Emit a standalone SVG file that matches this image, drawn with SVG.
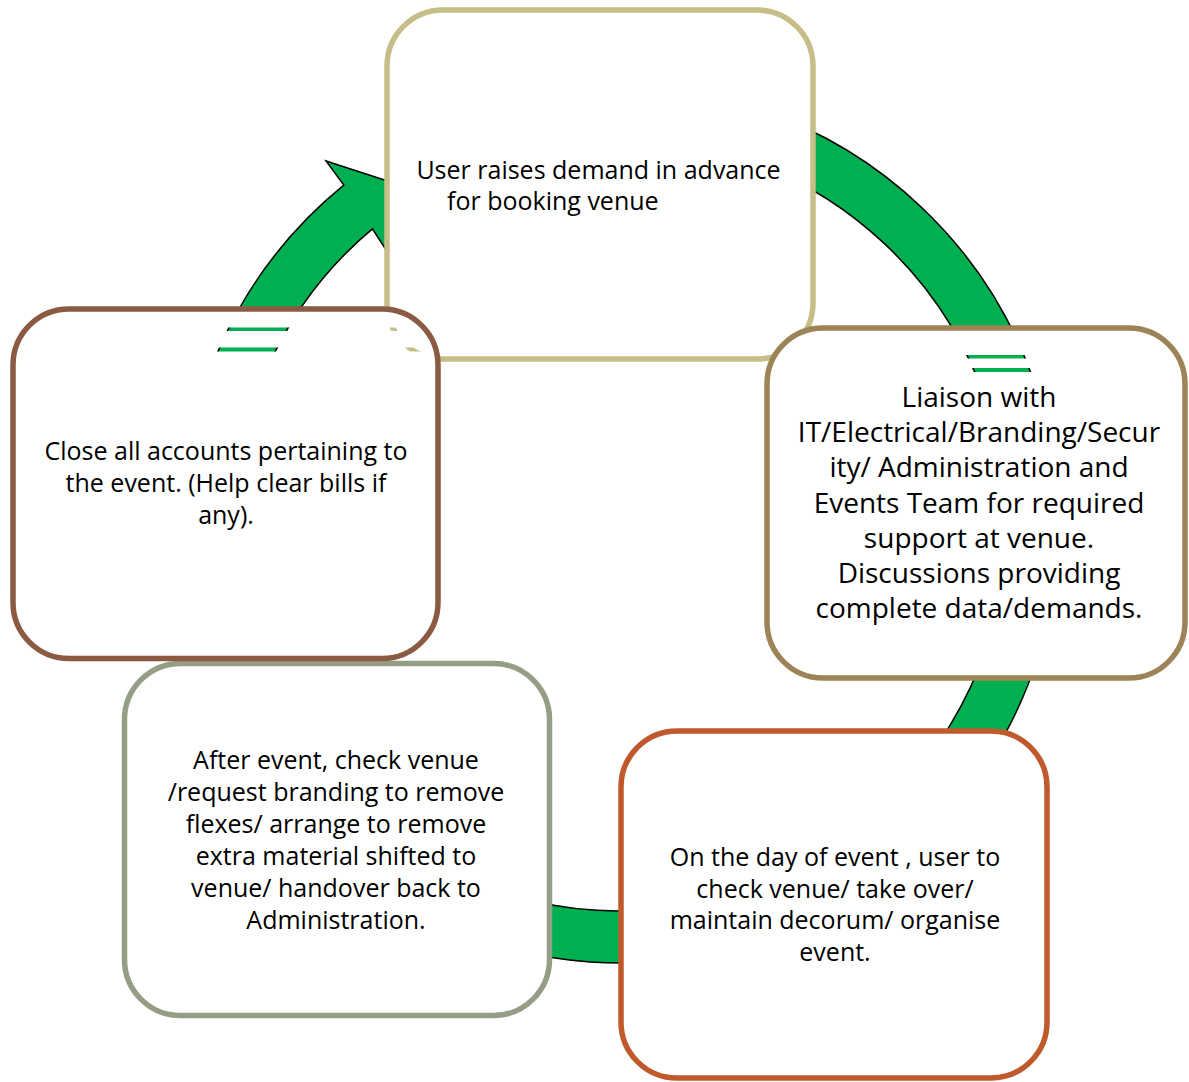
<svg xmlns="http://www.w3.org/2000/svg" xmlns:xlink="http://www.w3.org/1999/xlink" width="1189" height="1082" viewBox="0 0 1189 1082">
  <style>
    .box { fill: #FFFFFF; stroke-width: 5.5; }
    .ring { fill: #00B050; stroke: #000000; stroke-width: 1.5; stroke-linejoin: miter; }
    .t { font-family: "Open Sans", "Liberation Sans", sans-serif; font-size: 25px; fill: #000000; text-anchor: middle; }
    .t28 { font-size: 28px; }
  </style>
  <defs>
    <path id="ringShape" d="M 528.9 96.6 A 438 438 0 1 1 343.8 185.1 L 326 161 L 400 185 L 392 259 L 372.4 228.9 A 386 386 0 1 0 539.7 147.4 Z"/>
    <clipPath id="brownStripes">
      <rect x="15" y="327.5" width="421" height="3.5"/>
      <rect x="15" y="347.5" width="421" height="4"/>
    </clipPath>
    <clipPath id="rightStripes">
      <rect x="770" y="355" width="414" height="3.5"/>
      <rect x="770" y="368" width="414" height="4"/>
    </clipPath>
  </defs>
  <rect width="1189" height="1082" fill="#FFFFFF"/>

  <g id="connectors">
    <use xlink:href="#ringShape" href="#ringShape" class="ring"/>
  </g>

  <g id="node-booking">
    <rect class="box" x="387" y="10" width="426" height="349" rx="56" ry="56" stroke="#C6BE87"/>
    <text class="t" x="598.5" y="178.5">User raises demand in advance</text>
    <text class="t" x="447" y="209.5" style="text-anchor:start">for booking venue</text>
  </g>

  <g id="node-liaison">
    <rect class="box" x="767" y="328" width="418" height="350" rx="56" ry="56" stroke="#9C8456"/>
    <text class="t t28" x="979" y="407">Liaison with</text>
    <text class="t t28" x="979" y="442">IT/Electrical/Branding/Secur</text>
    <text class="t t28" x="979" y="477">ity/ Administration and</text>
    <text class="t t28" x="979" y="512.5">Events Team for required</text>
    <text class="t t28" x="979" y="547.5">support at venue.</text>
    <text class="t t28" x="979" y="582.5">Discussions providing</text>
    <text class="t t28" x="979" y="617.5">complete data/demands.</text>
  </g>

  <g id="node-eventday">
    <rect class="box" x="621" y="731" width="426" height="347" rx="56" ry="56" stroke="#C05A2C"/>
    <text class="t" x="835" y="866">On the day of event , user to</text>
    <text class="t" x="835" y="897.5">check venue/ take over/</text>
    <text class="t" x="835" y="929">maintain decorum/ organise</text>
    <text class="t" x="835" y="961">event.</text>
  </g>

  <g id="node-afterevent">
    <rect class="box" x="124.5" y="663.5" width="425" height="352" rx="56" ry="56" stroke="#949E85"/>
    <text class="t" x="336" y="769">After event, check venue</text>
    <text class="t" x="336" y="801">/request branding to remove</text>
    <text class="t" x="336" y="833">flexes/ arrange to remove</text>
    <text class="t" x="336" y="865">extra material shifted to</text>
    <text class="t" x="336" y="897">venue/ handover back to</text>
    <text class="t" x="336" y="929">Administration.</text>
  </g>

  <g id="node-close">
    <rect class="box" x="13" y="309" width="425" height="349.5" rx="56" ry="56" stroke="#8B5A43"/>
    <text class="t" x="226" y="460">Close all accounts pertaining to</text>
    <text class="t" x="226" y="492">the event. (Help clear bills if</text>
    <text class="t" x="226" y="524">any).</text>
  </g>

  <g id="show-through">
    <g clip-path="url(#brownStripes)">
      <use xlink:href="#ringShape" href="#ringShape" class="ring"/>
      <rect x="387" y="10" width="426" height="349" rx="56" ry="56" fill="none" stroke="#C6BE87" stroke-width="5.5"/>
    </g>
    <g clip-path="url(#rightStripes)">
      <use xlink:href="#ringShape" href="#ringShape" class="ring"/>
    </g>
  </g>
</svg>
